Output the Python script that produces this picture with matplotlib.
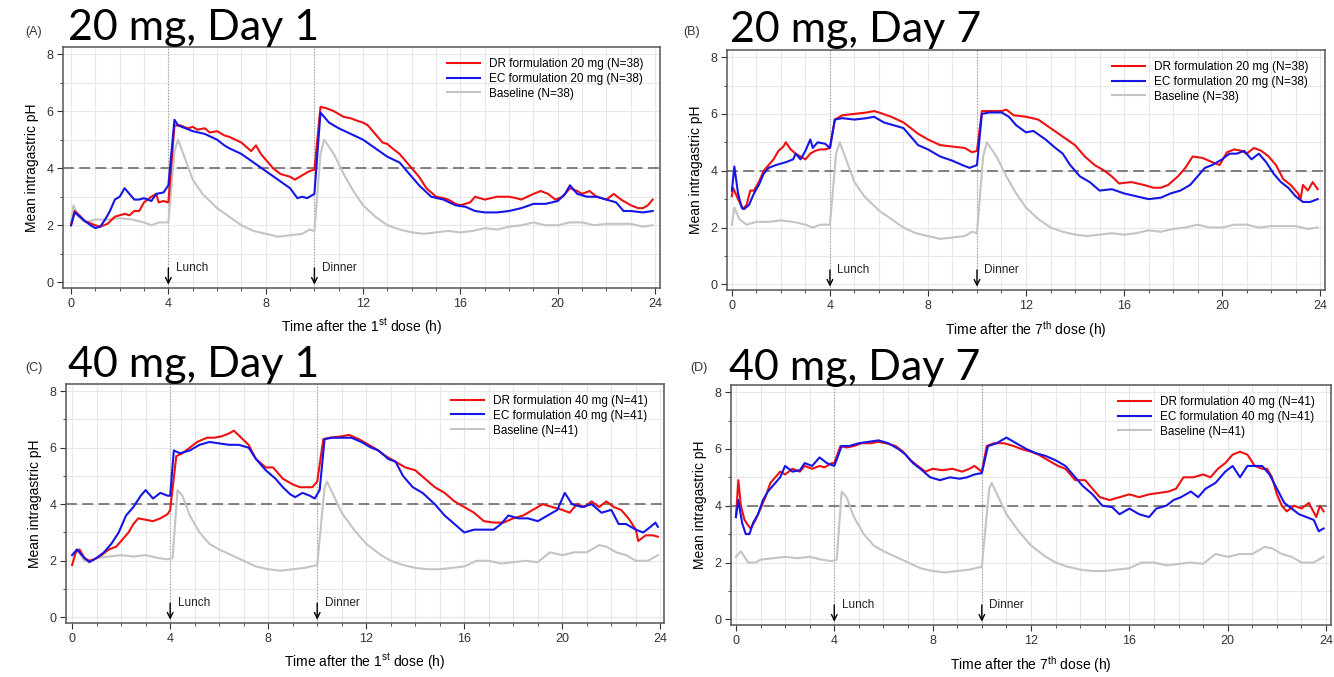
import numpy as np
import matplotlib
matplotlib.use("Agg")
import matplotlib.pyplot as plt
from matplotlib.ticker import MultipleLocator

plt.rcParams['font.family'] = ['Liberation Sans', 'DejaVu Sans']
plt.rcParams['mathtext.fontset'] = 'custom'
plt.rcParams['mathtext.rm'] = 'Liberation Sans'

# (hour, mean intragastric pH)
a_dr = [(0, 2.0), (0.15, 2.5), (0.4, 2.3), (0.55, 2.15), (0.7, 2.1), (1.0, 2.0), (1.2, 1.95), (1.5, 2.05),
        (1.8, 2.3), (2.0, 2.35), (2.2, 2.4), (2.4, 2.35), (2.6, 2.5), (2.8, 2.5), (3.0, 2.8), (3.3, 3.0),
        (3.5, 3.1), (3.6, 2.8), (3.8, 2.85), (4.0, 2.8), (4.25, 5.5), (4.5, 5.5), (4.8, 5.4), (5.0, 5.45),
        (5.2, 5.35), (5.5, 5.4), (5.7, 5.25), (6.0, 5.3), (6.3, 5.15), (6.5, 5.1), (7.0, 4.9), (7.2, 4.75),
        (7.4, 4.6), (7.6, 4.8), (7.8, 4.5), (8.0, 4.3), (8.3, 4.0), (8.6, 3.8), (9.0, 3.7), (9.2, 3.6),
        (9.5, 3.75), (9.8, 3.9), (10.0, 3.95), (10.25, 6.15), (10.5, 6.1), (10.8, 6.0), (11.0, 5.9),
        (11.2, 5.8), (11.5, 5.75), (11.8, 5.65), (12.0, 5.6), (12.2, 5.5), (12.5, 5.2), (12.8, 4.9),
        (13.0, 4.85), (13.2, 4.7), (13.5, 4.5), (13.8, 4.2), (14.0, 4.0), (14.3, 3.7), (14.6, 3.3),
        (15.0, 3.0), (15.3, 2.95), (15.5, 2.9), (15.8, 2.75), (16.0, 2.7), (16.4, 2.8), (16.6, 3.0),
        (17.0, 2.9), (17.5, 3.0), (18.0, 3.0), (18.3, 2.95), (18.5, 2.9), (19.0, 3.1), (19.3, 3.2),
        (19.6, 3.1), (19.9, 2.9), (20.2, 3.0), (20.5, 3.3), (20.8, 3.2), (21.0, 3.1), (21.3, 3.2),
        (21.6, 3.0), (22.0, 2.9), (22.3, 3.1), (22.6, 2.9), (23.0, 2.7), (23.3, 2.6), (23.5, 2.6),
        (23.7, 2.7), (23.9, 2.9)]
a_ec = [(0, 2.0), (0.15, 2.45), (0.5, 2.2), (0.8, 2.0), (1.0, 1.9), (1.2, 1.95), (1.4, 2.2), (1.6, 2.5),
        (1.8, 2.9), (2.0, 3.0), (2.2, 3.3), (2.4, 3.1), (2.6, 2.9), (2.8, 2.9), (3.0, 2.95), (3.3, 2.85),
        (3.5, 3.1), (3.8, 3.15), (4.0, 3.4), (4.25, 5.7), (4.4, 5.5), (4.7, 5.4), (5.0, 5.3), (5.5, 5.2),
        (6.0, 5.0), (6.3, 4.8), (6.5, 4.7), (7.0, 4.5), (7.5, 4.2), (8.0, 3.9), (8.5, 3.6), (9.0, 3.3),
        (9.3, 2.95), (9.5, 3.0), (9.7, 2.95), (10.0, 3.1), (10.25, 5.95), (10.6, 5.6), (11.0, 5.4),
        (11.5, 5.2), (12.0, 5.0), (12.5, 4.7), (13.0, 4.4), (13.5, 4.2), (13.9, 3.8), (14.3, 3.4),
        (14.8, 3.0), (15.3, 2.9), (15.8, 2.7), (16.2, 2.65), (16.6, 2.5), (17.0, 2.45), (17.5, 2.45),
        (18.0, 2.5), (18.5, 2.6), (19.0, 2.75), (19.5, 2.75), (20.0, 2.85), (20.3, 3.1), (20.5, 3.4),
        (20.8, 3.1), (21.2, 3.0), (21.6, 3.0), (22.0, 2.9), (22.4, 2.8), (22.7, 2.5), (23.0, 2.5),
        (23.5, 2.45), (23.9, 2.5)]
base20 = [(0, 2.1), (0.1, 2.7), (0.3, 2.3), (0.6, 2.1), (1.0, 2.2), (1.5, 2.2), (2.0, 2.25), (2.5, 2.2),
          (3.0, 2.1), (3.3, 2.0), (3.6, 2.1), (4.0, 2.1), (4.25, 4.6), (4.4, 5.0), (4.7, 4.3), (5.0, 3.6),
          (5.4, 3.1), (6.0, 2.6), (6.5, 2.3), (7.0, 2.0), (7.5, 1.8), (8.0, 1.7), (8.5, 1.6), (9.0, 1.65),
          (9.5, 1.7), (9.8, 1.85), (10.0, 1.8), (10.25, 4.5), (10.4, 5.0), (10.8, 4.5), (11.2, 3.8),
          (11.6, 3.2), (12.0, 2.7), (12.5, 2.3), (13.0, 2.0), (13.5, 1.85), (14.0, 1.75), (14.5, 1.7),
          (15.0, 1.75), (15.5, 1.8), (16.0, 1.75), (16.5, 1.8), (17.0, 1.9), (17.5, 1.85), (18.0, 1.95),
          (18.5, 2.0), (19.0, 2.1), (19.5, 2.0), (20.0, 2.0), (20.5, 2.1), (21.0, 2.1), (21.5, 2.0),
          (22.0, 2.05), (22.5, 2.05), (23.0, 2.05), (23.5, 1.95), (23.9, 2.0)]

b_dr = [(0, 3.1), (0.05, 3.4), (0.25, 3.0), (0.45, 2.65), (0.6, 2.8), (0.75, 3.3), (0.9, 3.3), (1.1, 3.6),
        (1.3, 4.0), (1.5, 4.2), (1.7, 4.4), (1.9, 4.7), (2.1, 4.85), (2.2, 5.0), (2.4, 4.75), (2.6, 4.6),
        (2.8, 4.5), (3.0, 4.4), (3.2, 4.6), (3.4, 4.7), (3.6, 4.75), (3.8, 4.75), (4.0, 4.8), (4.2, 5.8),
        (4.5, 5.95), (5.0, 6.0), (5.5, 6.05), (5.8, 6.1), (6.0, 6.05), (6.5, 5.9), (7.0, 5.7), (7.3, 5.5),
        (7.6, 5.3), (8.0, 5.1), (8.5, 4.9), (9.0, 4.85), (9.5, 4.8), (9.8, 4.65), (10.0, 4.7), (10.2, 6.1),
        (10.5, 6.1), (11.0, 6.1), (11.2, 6.15), (11.5, 5.95), (12.0, 5.9), (12.5, 5.8), (13.0, 5.5),
        (13.5, 5.2), (14.0, 4.9), (14.4, 4.5), (14.8, 4.2), (15.2, 4.0), (15.5, 3.8), (15.8, 3.55),
        (16.3, 3.6), (16.8, 3.5), (17.2, 3.4), (17.5, 3.4), (17.8, 3.5), (18.2, 3.8), (18.5, 4.1),
        (18.8, 4.5), (19.2, 4.45), (19.6, 4.3), (19.9, 4.2), (20.2, 4.65), (20.5, 4.75), (20.8, 4.7),
        (21.0, 4.6), (21.3, 4.8), (21.6, 4.7), (21.9, 4.5), (22.2, 4.2), (22.5, 3.7), (22.8, 3.5),
        (23.1, 3.2), (23.2, 3.0), (23.3, 3.5), (23.5, 3.3), (23.7, 3.6), (23.9, 3.35)]
b_ec = [(0, 3.3), (0.1, 4.15), (0.25, 3.2), (0.4, 2.7), (0.5, 2.65), (0.7, 2.8), (0.9, 3.2), (1.1, 3.5),
        (1.3, 3.9), (1.5, 4.1), (1.8, 4.2), (2.2, 4.3), (2.5, 4.4), (2.6, 4.6), (2.8, 4.4), (3.0, 4.7),
        (3.2, 5.1), (3.3, 4.8), (3.5, 5.0), (3.8, 4.95), (4.0, 4.8), (4.2, 5.8), (4.5, 5.85), (5.0, 5.8),
        (5.5, 5.85), (5.8, 5.9), (6.2, 5.7), (6.6, 5.6), (7.0, 5.5), (7.3, 5.2), (7.6, 4.9), (8.0, 4.75),
        (8.5, 4.5), (9.0, 4.35), (9.4, 4.2), (9.7, 4.1), (10.0, 4.2), (10.2, 6.0), (10.5, 6.05),
        (11.0, 6.05), (11.3, 5.9), (11.6, 5.6), (12.0, 5.35), (12.3, 5.4), (12.8, 5.1), (13.2, 4.8),
        (13.5, 4.6), (13.8, 4.2), (14.2, 3.8), (14.6, 3.6), (15.0, 3.3), (15.5, 3.35), (16.0, 3.2),
        (16.5, 3.1), (17.0, 3.0), (17.5, 3.05), (17.9, 3.2), (18.3, 3.3), (18.7, 3.5), (19.0, 3.8),
        (19.3, 4.1), (19.6, 4.2), (20.0, 4.4), (20.3, 4.6), (20.6, 4.6), (20.9, 4.7), (21.2, 4.4),
        (21.5, 4.6), (21.8, 4.3), (22.1, 3.9), (22.4, 3.6), (22.7, 3.4), (23.0, 3.1), (23.3, 2.9),
        (23.6, 2.9), (23.9, 3.0)]

c_dr = [(0, 1.85), (0.15, 2.3), (0.3, 2.4), (0.5, 2.1), (0.7, 2.0), (0.9, 2.05), (1.2, 2.2), (1.5, 2.4),
        (1.8, 2.5), (2.1, 2.8), (2.3, 3.0), (2.5, 3.3), (2.7, 3.5), (3.0, 3.45), (3.3, 3.4), (3.6, 3.5),
        (3.9, 3.65), (4.0, 3.8), (4.25, 5.7), (4.5, 5.8), (4.8, 6.0), (5.1, 6.2), (5.5, 6.35), (5.8, 6.35),
        (6.1, 6.4), (6.4, 6.5), (6.6, 6.6), (6.9, 6.35), (7.2, 6.1), (7.5, 5.6), (7.9, 5.3), (8.2, 5.3),
        (8.6, 4.9), (9.0, 4.7), (9.3, 4.6), (9.6, 4.6), (9.8, 4.6), (10.0, 4.8), (10.25, 6.3), (10.5, 6.35),
        (11.0, 6.4), (11.3, 6.45), (11.7, 6.3), (12.1, 6.1), (12.4, 5.95), (12.8, 5.7), (13.2, 5.5),
        (13.6, 5.3), (14.0, 5.2), (14.4, 4.9), (14.8, 4.6), (15.2, 4.4), (15.6, 4.1), (16.0, 3.9),
        (16.4, 3.7), (16.8, 3.4), (17.2, 3.35), (17.6, 3.35), (18.0, 3.5), (18.4, 3.6), (18.8, 3.8),
        (19.2, 4.0), (19.6, 3.9), (20.0, 3.8), (20.3, 3.7), (20.6, 4.0), (20.9, 3.9), (21.2, 4.1),
        (21.5, 3.9), (21.8, 4.1), (22.1, 3.9), (22.4, 3.8), (22.7, 3.5), (23.0, 3.1), (23.1, 2.7),
        (23.4, 2.9), (23.7, 2.9), (23.9, 2.85)]
c_ec = [(0, 2.2), (0.2, 2.4), (0.5, 2.1), (0.7, 1.95), (1.0, 2.1), (1.3, 2.3), (1.6, 2.6), (1.9, 3.0),
        (2.2, 3.6), (2.5, 3.9), (2.8, 4.3), (3.0, 4.5), (3.3, 4.2), (3.6, 4.4), (3.9, 4.3), (4.0, 4.3),
        (4.15, 5.9), (4.4, 5.8), (4.8, 5.9), (5.2, 6.1), (5.6, 6.2), (6.0, 6.15), (6.4, 6.1), (6.8, 6.1),
        (7.2, 6.0), (7.5, 5.6), (7.9, 5.2), (8.3, 4.9), (8.6, 4.6), (8.9, 4.35), (9.1, 4.25), (9.4, 4.4),
        (9.7, 4.3), (9.9, 4.2), (10.1, 4.5), (10.3, 6.3), (10.6, 6.35), (11.0, 6.35), (11.4, 6.35),
        (11.8, 6.2), (12.2, 6.0), (12.5, 5.9), (12.9, 5.6), (13.2, 5.5), (13.5, 5.0), (13.9, 4.6),
        (14.3, 4.4), (14.8, 4.0), (15.2, 3.6), (15.6, 3.3), (16.0, 3.0), (16.4, 3.1), (16.8, 3.1),
        (17.2, 3.1), (17.5, 3.3), (17.8, 3.6), (18.2, 3.5), (18.6, 3.5), (19.0, 3.4), (19.4, 3.6),
        (19.8, 3.8), (20.1, 4.4), (20.4, 4.0), (20.8, 3.9), (21.2, 4.0), (21.6, 3.7), (22.0, 3.8),
        (22.3, 3.3), (22.6, 3.3), (23.0, 3.1), (23.3, 3.0), (23.6, 3.2), (23.8, 3.35), (23.9, 3.2)]
base40 = [(0, 2.2), (0.2, 2.4), (0.5, 2.0), (0.8, 2.0), (1.0, 2.1), (1.5, 2.15), (2.0, 2.2), (2.5, 2.15),
          (3.0, 2.2), (3.5, 2.1), (3.9, 2.05), (4.1, 2.1), (4.3, 4.5), (4.5, 4.3), (4.8, 3.6), (5.2, 3.0),
          (5.6, 2.6), (6.0, 2.4), (6.5, 2.2), (7.0, 2.0), (7.5, 1.8), (8.0, 1.7), (8.5, 1.65), (9.0, 1.7),
          (9.5, 1.75), (10.0, 1.85), (10.3, 4.6), (10.4, 4.8), (11.0, 3.7), (11.5, 3.1), (12.0, 2.6),
          (12.6, 2.2), (13.0, 2.0), (13.5, 1.85), (14.0, 1.75), (14.5, 1.7), (15.0, 1.7), (15.5, 1.75),
          (16.0, 1.8), (16.5, 2.0), (17.0, 2.0), (17.5, 1.9), (18.0, 1.95), (18.5, 2.0), (19.0, 1.95),
          (19.5, 2.3), (20.0, 2.2), (20.5, 2.3), (21.0, 2.3), (21.5, 2.55), (21.8, 2.5), (22.2, 2.3),
          (22.6, 2.2), (23.0, 2.0), (23.5, 2.0), (23.9, 2.2)]

d_dr = [(0, 3.6), (0.1, 4.9), (0.2, 4.0), (0.35, 3.5), (0.5, 3.3), (0.6, 3.2), (0.8, 3.5), (1.0, 3.9),
        (1.2, 4.3), (1.4, 4.8), (1.6, 5.0), (1.8, 5.2), (2.0, 5.1), (2.3, 5.3), (2.6, 5.2), (2.8, 5.4),
        (3.1, 5.3), (3.4, 5.4), (3.6, 5.35), (3.9, 5.5), (4.0, 5.5), (4.25, 6.1), (4.5, 6.05), (4.8, 6.1),
        (5.1, 6.2), (5.5, 6.2), (5.8, 6.25), (6.1, 6.2), (6.5, 6.1), (6.8, 5.9), (7.1, 5.6), (7.4, 5.4),
        (7.7, 5.2), (8.0, 5.3), (8.4, 5.25), (8.8, 5.3), (9.2, 5.2), (9.5, 5.3), (9.7, 5.4), (10.0, 5.2),
        (10.2, 6.1), (10.5, 6.2), (10.9, 6.2), (11.3, 6.1), (11.6, 6.0), (12.0, 5.9), (12.3, 5.8),
        (12.7, 5.6), (13.1, 5.4), (13.4, 5.3), (13.8, 4.9), (14.2, 4.9), (14.5, 4.6), (14.8, 4.3),
        (15.2, 4.2), (15.6, 4.3), (16.0, 4.4), (16.4, 4.3), (16.8, 4.4), (17.2, 4.45), (17.6, 4.5),
        (17.9, 4.6), (18.2, 5.0), (18.6, 5.0), (19.0, 5.1), (19.3, 5.0), (19.6, 5.3), (19.9, 5.5),
        (20.2, 5.8), (20.5, 5.9), (20.8, 5.8), (21.1, 5.4), (21.4, 5.3), (21.6, 5.3), (21.8, 5.0),
        (22.0, 4.4), (22.2, 4.0), (22.4, 3.8), (22.7, 4.0), (23.0, 3.9), (23.3, 4.1), (23.6, 3.6),
        (23.75, 4.0), (23.9, 3.8)]
d_ec = [(0, 3.6), (0.1, 4.2), (0.25, 3.4), (0.4, 3.0), (0.55, 3.0), (0.7, 3.4), (0.9, 3.7), (1.1, 4.2),
        (1.3, 4.5), (1.6, 4.8), (1.8, 5.0), (2.0, 5.4), (2.3, 5.2), (2.6, 5.25), (2.8, 5.5), (3.1, 5.4),
        (3.4, 5.7), (3.7, 5.5), (4.0, 5.4), (4.3, 6.1), (4.6, 6.1), (5.0, 6.2), (5.4, 6.25), (5.8, 6.3),
        (6.2, 6.2), (6.6, 6.0), (6.9, 5.8), (7.2, 5.5), (7.5, 5.3), (7.9, 5.0), (8.3, 4.9), (8.7, 5.0),
        (9.1, 4.95), (9.4, 5.0), (9.7, 5.1), (10.0, 5.15), (10.25, 6.1), (10.6, 6.2), (11.0, 6.4),
        (11.4, 6.2), (11.8, 6.0), (12.2, 5.85), (12.6, 5.75), (13.0, 5.6), (13.4, 5.4), (13.8, 5.0),
        (14.1, 4.7), (14.5, 4.4), (14.9, 4.0), (15.3, 3.95), (15.6, 3.7), (16.0, 3.9), (16.4, 3.7),
        (16.8, 3.6), (17.1, 3.9), (17.5, 4.0), (17.8, 4.2), (18.1, 4.3), (18.5, 4.5), (18.8, 4.3),
        (19.1, 4.6), (19.5, 4.8), (19.9, 5.2), (20.2, 5.4), (20.5, 5.0), (20.8, 5.4), (21.2, 5.4),
        (21.4, 5.4), (21.7, 5.1), (22.0, 4.6), (22.3, 4.1), (22.6, 3.9), (22.9, 3.7), (23.2, 3.6),
        (23.5, 3.5), (23.7, 3.1), (23.9, 3.2)]

titles = ["20 mg, Day 1", "20 mg, Day 7", "40 mg, Day 1", "40 mg, Day 7"]
letters = ["(A)", "(B)", "(C)", "(D)"]
doses = ["20 mg (N=38)", "20 mg (N=38)", "40 mg (N=41)", "40 mg (N=41)"]
base_n = ["N=38", "N=38", "N=41", "N=41"]
xlabels = [r"Time after the 1$^{\mathrm{st}}$ dose (h)", r"Time after the 7$^{\mathrm{th}}$ dose (h)",
           r"Time after the 1$^{\mathrm{st}}$ dose (h)", r"Time after the 7$^{\mathrm{th}}$ dose (h)"]
series = [(a_dr, a_ec, base20), (b_dr, b_ec, base20), (c_dr, c_ec, base40), (d_dr, d_ec, base40)]

W, H = 1334, 677
fig = plt.figure(figsize=(W / 100, H / 100), dpi=100)

# axes frames in pixels: left, top, right, bottom
boxes = [(63, 47, 660, 288), (727, 50, 1325, 290), (66, 384, 664, 623), (731, 385, 1331, 625)]
xlims = [(-0.33, 24.2), (-0.2, 24.2), (-0.25, 24.15), (-0.2, 24.2)]
title_pos = [(68, 40), (730, 42), (68, 377), (729, 380)]
letter_pos = [(25, 32), (683, 32), (25, 368), (690, 368)]

for i in range(4):
    l, t, r, b = boxes[i]
    ax = fig.add_axes([l / W, 1 - b / H, (r - l) / W, (b - t) / H])
    dr, ec, base = [np.array(s) for s in series[i]]

    ax.plot(dr[:, 0], dr[:, 1], color='#f01010', lw=1.5, label='DR formulation ' + doses[i], zorder=4)
    ax.plot(ec[:, 0], ec[:, 1], color='#1515e8', lw=1.5, label='EC formulation ' + doses[i], zorder=4)
    ax.plot(base[:, 0], base[:, 1], color='#c4c4c4', lw=1.5, label='Baseline (' + base_n[i] + ')', zorder=3)

    ax.axhline(4, color='#777777', lw=1.3, ls=(0, (6, 3)), zorder=2)
    for xm in (4, 10):
        ax.axvline(xm, color='#999999', lw=0.8, ls=':', zorder=2)
    ax.annotate('', xy=(4, -0.18), xytext=(4, 0.6),
                arrowprops=dict(arrowstyle='->', color='black', lw=1.0))
    ax.annotate('', xy=(10, -0.18), xytext=(10, 0.6),
                arrowprops=dict(arrowstyle='->', color='black', lw=1.0))
    ax.text(4.3, 0.5, 'Lunch', fontsize=8.5, va='center', color='#222222')
    ax.text(10.3, 0.5, 'Dinner', fontsize=8.5, va='center', color='#222222')

    ax.set_xlim(*xlims[i])
    ax.set_ylim(-0.2, 8.25)
    ax.xaxis.set_major_locator(MultipleLocator(4))
    ax.xaxis.set_minor_locator(MultipleLocator(1))
    ax.yaxis.set_major_locator(MultipleLocator(2))
    ax.yaxis.set_minor_locator(MultipleLocator(1))
    ax.grid(True, which='both', color='#e8e8e8', lw=0.8, zorder=0)
    ax.set_axisbelow(True)
    ax.tick_params(which='major', direction='out', length=4, labelsize=9, colors='#333333', pad=3)
    ax.tick_params(which='minor', direction='out', length=2.5, colors='#333333')
    for sp in ax.spines.values():
        sp.set_color('#555555')
        sp.set_linewidth(1.1)

    ax.set_ylabel('Mean intragastric pH', fontsize=10, labelpad=5)
    ax.set_xlabel(xlabels[i], fontsize=10, labelpad=5)

    ax.legend(loc='upper right', bbox_to_anchor=(0.985, 0.985), frameon=False, fontsize=8.5,
              handlelength=2.8, labelspacing=0.25, borderaxespad=0.2)

    tx, ty = title_pos[i]
    fig.text(tx / W, 1 - ty / H, titles[i], fontsize=31, family=['Lato', 'DejaVu Sans'],
             va='baseline', ha='left')
    lx, ly = letter_pos[i]
    fig.text(lx / W, 1 - ly / H, letters[i], fontsize=9, va='center', ha='left', color='#333333')

fig.savefig('out.png', dpi=100)
